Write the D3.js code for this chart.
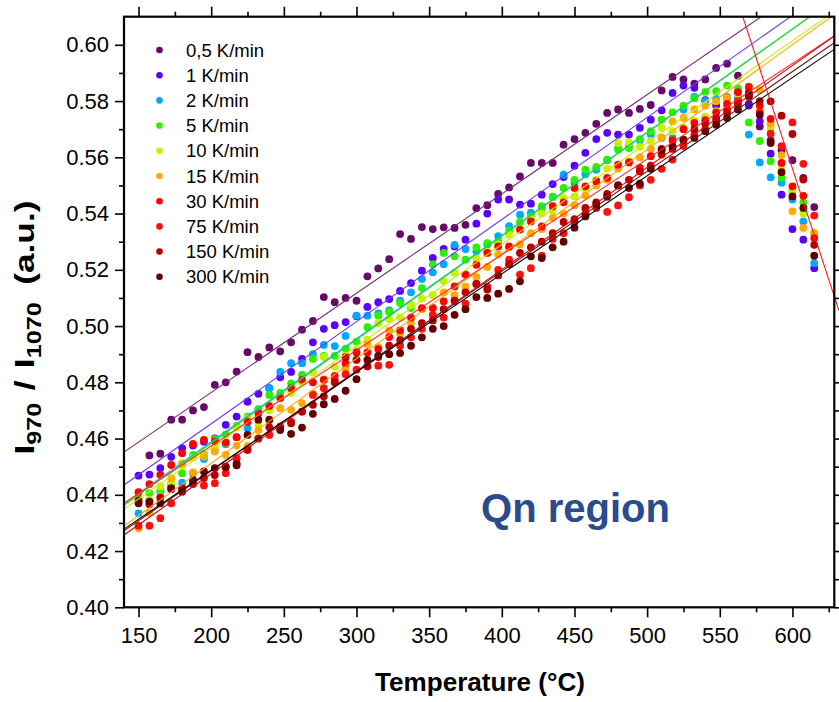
<!DOCTYPE html>
<html>
<head>
<meta charset="utf-8">
<script src="https://cdn.jsdelivr.net/npm/d3@7/dist/d3.min.js"></script>
<style>
  html, body { margin: 0; padding: 0; background: #fff; }
  svg { display: block; }
  text { font-family: "Liberation Sans", Arial, sans-serif; }
</style>
</head>
<body>
<svg id="chart" width="839" height="702"></svg>
<script>
// Heating-rate series: intensity ratio I970/I1070 versus temperature
const temperatures = [150,157.5,165,172.5,180,187.5,195,202.5,210,217.5,225,232.5,240,247.5,255,262.5,270,277.5,285,292.5,300,307.5,315,322.5,330,337.5,345,352.5,360,367.5,375,382.5,390,397.5,405,412.5,420,427.5,435,442.5,450,457.5,465,472.5,480,487.5,495,502.5,510,517.5,525,532.5,540,547.5,555,562.5,570,577.5,585,592.5,600,607.5,615];

const seriesLabels = ["0,5 K/min","1 K/min","2 K/min","5 K/min","10 K/min","15 K/min","30 K/min","75 K/min","150 K/min","300 K/min"];
const pointColors  = ["#670a68","#5a00f5","#00a8ff","#2cf000","#c8f000","#ffaa00","#ff0000","#ff1010","#b40000","#650000"];
const lineColors   = ["#7b2a7b","#6a3cff","#00b4ff","#30e000","#c8ee00","#ffaa00","#ff2a2a","#e80000","#6e1a1a","#000000"];

const r05 = [null,0.454,0.4546,0.4667,0.4667,0.470,0.4712,0.4791,0.480,0.4838,0.4907,0.489,0.4924,0.491,0.4942,0.4987,0.5018,0.5103,0.5085,0.510,0.509,0.5177,0.5205,0.5238,0.5327,0.531,0.5352,0.5345,0.5351,0.5349,0.536,0.5419,0.543,0.547,0.5493,0.5532,0.558,0.558,0.558,0.5645,0.5665,0.5687,0.5719,0.5758,0.577,0.5758,0.5772,0.5786,0.5838,0.5886,0.5877,0.5862,0.5877,0.5918,0.5933,0.589,0.579,0.571,0.566,0.5625,0.559,0.5527,0.5423];
const r1 = [0.4468,0.4472,0.4495,0.4535,0.4566,0.4575,0.4589,0.4601,0.4649,0.4678,0.4731,0.4759,0.4779,0.4818,0.4837,0.4883,0.4942,0.499,0.5003,0.5014,0.5035,0.5068,0.5085,0.5096,0.5125,0.5153,0.5197,0.5242,0.5274,0.5283,0.5307,0.5364,0.540,0.545,0.545,0.5432,0.5435,0.5467,0.5505,0.553,0.557,0.5616,0.5665,0.5687,0.5681,0.5681,0.5705,0.5734,0.5767,0.5829,0.5855,0.5847,0.5803,0.5784,0.5811,0.5805,0.5784,0.5728,0.5613,0.5467,0.5345,0.5307,0.5206];
const r2 = [0.4334,0.438,0.441,0.443,0.4443,0.4477,0.4527,0.456,0.458,0.4605,0.4637,0.4705,0.4779,0.4837,0.4868,0.4868,0.490,0.4933,0.4929,0.4965,0.5037,0.5037,0.5045,0.5056,0.509,0.512,0.5167,0.5191,0.522,0.5289,0.5274,0.5266,0.529,0.532,0.5355,0.5396,0.5403,0.542,0.546,0.5538,0.551,0.554,0.5556,0.559,0.5633,0.564,0.566,0.5681,0.5669,0.5669,0.577,0.5815,0.580,0.5808,0.5815,0.581,0.5681,0.5582,0.5529,0.551,0.545,0.5372,0.5224];
const r5 = [0.4385,0.4406,0.4417,0.4435,0.4477,0.4542,0.4545,0.4598,0.4615,0.4645,0.4678,0.4702,0.4755,0.4762,0.4796,0.4827,0.4883,0.4894,0.4894,0.492,0.4945,0.4996,0.5037,0.505,0.5082,0.5064,0.5135,0.5219,0.526,0.5248,0.5236,0.528,0.5295,0.530,0.534,0.537,0.539,0.5426,0.5459,0.5491,0.552,0.5556,0.5566,0.5592,0.5627,0.5633,0.5665,0.5693,0.5734,0.576,0.5784,0.581,0.5833,0.5835,0.5855,0.5845,0.5724,0.5658,0.5586,0.5527,0.5479,0.544,0.533];
const r10 = [0.4375,0.4382,0.4430,0.4445,0.4505,0.4532,0.4538,0.4570,0.4585,0.4640,0.4672,0.4650,0.4700,0.4745,0.4762,0.4800,0.4835,0.4890,0.4855,0.4895,0.4915,0.4952,0.5010,0.5025,0.5030,0.5075,0.5098,0.5110,0.5160,0.5190,0.5185,0.5240,0.5265,0.5290,0.5325,0.5345,0.5380,0.5400,0.5410,0.5455,0.5461,0.5490,0.5520,0.5560,0.5651,0.5653,0.5637,0.5658,0.5705,0.5693,0.5705,0.5730,0.5745,0.5764,0.5790,0.5825,0.5852,0.5765,0.5705,0.5556,0.5485,0.5400,0.5331];
const r15 = [0.4281,0.4335,0.4394,0.4459,0.4512,0.4480,0.4536,0.4554,0.4542,0.4575,0.4574,0.4630,0.4665,0.4708,0.4702,0.4726,0.4760,0.4810,0.4800,0.4850,0.4880,0.4935,0.4925,0.4985,0.4973,0.5010,0.5060,0.5065,0.5120,0.5110,0.5140,0.5175,0.5210,0.5255,0.5280,0.5290,0.5330,0.5345,0.5385,0.5400,0.5430,0.5465,0.5500,0.5520,0.5560,0.5585,0.5600,0.5630,0.5670,0.5728,0.5740,0.5770,0.5784,0.5799,0.5811,0.5830,0.5850,0.5839,0.5720,0.5608,0.5408,0.5349,0.5330];
const r30 = [0.4409,0.4438,0.4471,0.4506,0.4548,0.4581,0.4595,0.4590,0.4586,0.4605,0.4660,0.4690,0.4716,0.4744,0.4779,0.4809,0.4800,0.4809,0.4823,0.4868,0.4906,0.4906,0.4918,0.4961,0.4985,0.5030,0.5064,0.5064,0.5088,0.5141,0.5183,0.5218,0.5260,0.5283,0.5283,0.5343,0.5372,0.5354,0.5426,0.5440,0.5491,0.5497,0.5515,0.5527,0.5574,0.5582,0.5562,0.5604,0.5630,0.5660,0.5700,0.5722,0.5732,0.5760,0.5790,0.5832,0.5815,0.5784,0.5737,0.5580,0.5497,0.5463,0.5313];
const r75 = [0.4290,0.4290,0.4317,0.4370,0.4420,0.4445,0.4433,0.4441,0.4477,0.4530,0.4560,0.4601,0.4613,0.4643,0.4660,0.4696,0.4755,0.4779,0.4810,0.4829,0.4845,0.4857,0.4859,0.4862,0.4930,0.4960,0.4990,0.5040,0.5030,0.5090,0.5080,0.5150,0.5140,0.5200,0.5236,0.5183,0.5206,0.5250,0.5310,0.5330,0.5370,0.5400,0.5420,0.5406,0.5429,0.5458,0.5500,0.5520,0.5559,0.5592,0.5640,0.5680,0.5700,0.5730,0.5770,0.5800,0.5850,0.5760,0.5684,0.5640,0.5724,0.5577,0.5393];
const r150 = [0.4380,0.4366,0.4390,0.4420,0.4424,0.4438,0.4460,0.4470,0.4498,0.4512,0.4560,0.4600,0.4640,0.4637,0.4654,0.4696,0.4720,0.4750,0.4800,0.4890,0.4880,0.4857,0.4890,0.4930,0.4950,0.4990,0.5010,0.5020,0.5060,0.5090,0.5120,0.5150,0.5130,0.5180,0.5220,0.5260,0.5280,0.5300,0.5330,0.5370,0.5380,0.5420,0.5440,0.5470,0.5500,0.5520,0.5550,0.5570,0.5610,0.5630,0.5660,0.5700,0.5720,0.5740,0.5760,0.5790,0.5830,0.5800,0.5799,0.5748,0.5683,0.5521,0.5289];
const r300 = [0.4370,0.4376,0.4370,0.4424,0.4411,0.4453,0.4483,0.4495,0.4500,0.4505,0.4613,0.4667,0.4667,0.4630,0.4617,0.4639,0.4688,0.4722,0.4741,0.4770,0.4811,0.4880,0.4895,0.4900,0.4904,0.4930,0.4960,0.4990,0.5000,0.5040,0.5060,0.5103,0.5100,0.5115,0.5132,0.5159,0.5248,0.5242,0.5280,0.5300,0.5350,0.5390,0.5432,0.5460,0.5500,0.5491,0.5506,0.5559,0.5627,0.5639,0.5663,0.5669,0.5693,0.5716,0.5740,0.5770,0.5820,0.5751,0.5651,0.5547,0.5461,0.5420,0.5250];

const seriesValues = [r05, r1, r2, r5, r10, r15, r30, r75, r150, r300];

// Linear fits of the rising branch: value at 140 °C and slope per °C
const fitAt140 = [0.4552, 0.4435, 0.4368, 0.4363, 0.4349, 0.4289, 0.4370, 0.4257, 0.4272, 0.4278];
const fitSlope = [3.53e-4, 3.63e-4, 3.67e-4, 3.68e-4, 3.62e-4, 3.72e-4, 3.40e-4, 3.63e-4, 3.55e-4, 3.49e-4];

// Fit of the falling branch (two end points in data units)
const dropFitT = [565.8, 632];
const dropFitV = [0.610, 0.5055];

const xTicks = [150,200,250,300,350,400,450,500,550,600];
const xMinorTicks = [175,225,275,325,375,425,475,525,575,625];
const yTicks = [0.40,0.42,0.44,0.46,0.48,0.50,0.52,0.54,0.56,0.58,0.60];
const yMinorTicks = [0.41,0.43,0.45,0.47,0.49,0.51,0.53,0.55,0.57,0.59];

const svg = d3.select("#chart");
const plot = { left: 124, right: 834.3, top: 16.7, bottom: 607.3 };

const x = d3.scaleLinear().domain([140, 628.8]).range([plot.left, plot.right]);
const y = d3.scaleLinear().domain([0.40, 0.61]).range([plot.bottom, plot.top]);

svg.append("defs").append("clipPath").attr("id", "plotClip")
  .append("rect")
  .attr("x", plot.left).attr("y", plot.top)
  .attr("width", plot.right - plot.left).attr("height", plot.bottom - plot.top);

// Data points
const pts = svg.append("g");
seriesValues.forEach((vals, s) => {
  pts.append("g")
    .attr("fill", pointColors[s])
    .selectAll("circle")
    .data(temperatures.map((t, i) => ({ t, v: vals[i] })).filter(d => d.v != null))
    .join("circle")
    .attr("cx", d => x(d.t))
    .attr("cy", d => y(d.v))
    .attr("r", 3.9);
});

// Fit lines
const lines = svg.append("g").attr("clip-path", "url(#plotClip)");
const lineGen = d3.line().x(d => x(d[0])).y(d => y(d[1]));
fitAt140.forEach((a, s) => {
  const tEnd = 628.8;
  lines.append("path")
    .attr("d", lineGen([[140, a], [tEnd, a + fitSlope[s] * (tEnd - 140)]]))
    .attr("fill", "none")
    .attr("stroke", lineColors[s])
    .attr("stroke-width", 1.1);
});
svg.append("path")
  .attr("d", lineGen(dropFitT.map((t, i) => [t, dropFitV[i]])))
  .attr("fill", "none")
  .attr("stroke", "#ff1a1a")
  .attr("stroke-width", 1.1);

// Axes
function styleAxis(g) {
  g.select(".domain").remove();
  g.selectAll(".tick line").attr("stroke", "#000").attr("stroke-width", 1.6);
}
const tickFont = 22;

svg.append("g").attr("transform", `translate(0,${plot.bottom})`)
  .call(d3.axisBottom(x).tickValues(xTicks).tickSize(10).tickPadding(10).tickFormat(d3.format("d")))
  .call(styleAxis)
  .call(g => g.selectAll("text").attr("font-size", tickFont).attr("fill", "#000")
    .attr("font-family", "'Liberation Sans', Arial, sans-serif"));
svg.append("g").attr("transform", `translate(0,${plot.bottom})`)
  .call(d3.axisBottom(x).tickValues(xMinorTicks).tickSize(5).tickFormat(""))
  .call(styleAxis);

svg.append("g").attr("transform", `translate(0,${plot.top})`)
  .call(d3.axisTop(x).tickValues(xTicks).tickSize(10).tickFormat(""))
  .call(styleAxis);
svg.append("g").attr("transform", `translate(0,${plot.top})`)
  .call(d3.axisTop(x).tickValues(xMinorTicks).tickSize(5).tickFormat(""))
  .call(styleAxis);

svg.append("g").attr("transform", `translate(${plot.left},0)`)
  .call(d3.axisLeft(y).tickValues(yTicks).tickSize(9).tickPadding(6).tickFormat(d3.format(".2f")))
  .call(styleAxis)
  .call(g => g.selectAll("text").attr("font-size", tickFont).attr("fill", "#000")
    .attr("font-family", "'Liberation Sans', Arial, sans-serif"));
svg.append("g").attr("transform", `translate(${plot.left},0)`)
  .call(d3.axisLeft(y).tickValues(yMinorTicks).tickSize(5).tickFormat(""))
  .call(styleAxis);

svg.append("g").attr("transform", `translate(${plot.right},0)`)
  .call(d3.axisRight(y).tickValues(yTicks).tickSize(9).tickFormat(""))
  .call(styleAxis);
svg.append("g").attr("transform", `translate(${plot.right},0)`)
  .call(d3.axisRight(y).tickValues(yMinorTicks).tickSize(5).tickFormat(""))
  .call(styleAxis);

// Frame
svg.append("rect")
  .attr("x", plot.left).attr("y", plot.top)
  .attr("width", plot.right - plot.left).attr("height", plot.bottom - plot.top)
  .attr("fill", "none").attr("stroke", "#000").attr("stroke-width", 2.2);

// Legend
const legend = svg.append("g");
seriesLabels.forEach((lab, i) => {
  const ly = 50 + i * 25.2;
  legend.append("circle").attr("cx", 159.5).attr("cy", ly).attr("r", 3.3).attr("fill", pointColors[i]);
  legend.append("text").attr("x", 186).attr("y", ly).attr("dy", "0.36em")
    .attr("font-size", 18.5).attr("fill", "#000").text(lab);
});

// Axis titles
svg.append("text")
  .attr("x", 480).attr("y", 691)
  .attr("text-anchor", "middle")
  .attr("font-size", 26).attr("font-weight", "bold")
  .attr("textLength", 210).attr("lengthAdjust", "spacingAndGlyphs")
  .text("Temperature (°C)");

const yTitle = svg.append("text")
  .attr("transform", "translate(34,327.5) rotate(-90)")
  .attr("text-anchor", "middle")
  .attr("font-size", 28).attr("font-weight", "bold")
  .attr("textLength", 254).attr("lengthAdjust", "spacingAndGlyphs");
yTitle.append("tspan").text("I");
yTitle.append("tspan").attr("font-size", 20).attr("dy", 7).text("970");
yTitle.append("tspan").attr("dy", -7).attr("dx", 2).text(" /");
yTitle.append("tspan").attr("dx", 2).text(" I");
yTitle.append("tspan").attr("font-size", 20).attr("dy", 7).text("1070");
yTitle.append("tspan").attr("dy", -7).attr("dx", 6).text(" (a.u.)");

// Region annotation
svg.append("text")
  .attr("x", 481).attr("y", 521.5)
  .attr("font-family", "'Open Sans', 'Noto Sans', sans-serif")
  .attr("font-size", 40).attr("font-weight", "bold")
  .attr("fill", "#2a4b8c")
  .attr("textLength", 189).attr("lengthAdjust", "spacingAndGlyphs")
  .text("Qn region");
</script>
</body>
</html>
